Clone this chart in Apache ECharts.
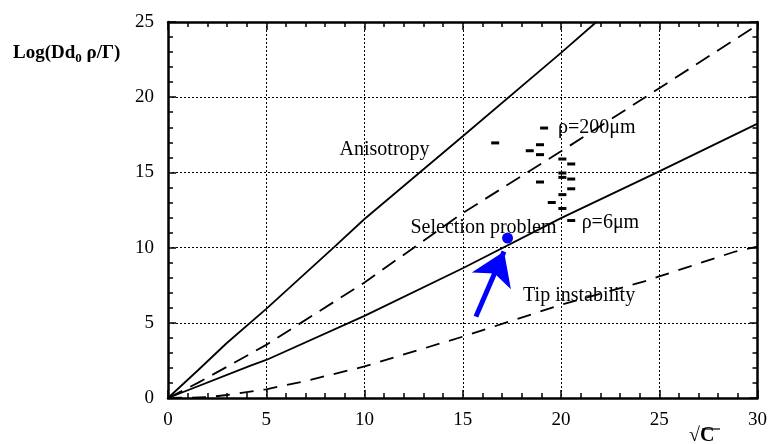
<!DOCTYPE html>
<html>
<head>
<meta charset="utf-8">
<script src="https://cdn.jsdelivr.net/npm/echarts@6/dist/echarts.min.js"></script>
<style>
  html, body { margin: 0; padding: 0; background: #fff; }
  #chart { width: 770px; height: 444px; }
</style>
</head>
<body>
<div id="chart"></div>
<script>
// Stability boundaries in the (√C, log) plane
const anisotropyUpper = [[0, 0], [1.54, 1.86], [2.98, 3.64], [5, 5.93], [8.48, 10.07], [10, 11.9], [15, 17.4], [20, 22.95], [21.8, 25]];
const anisotropyLower = [[0, 0], [1.54, 1.02], [5, 3.53], [10, 7.68], [15, 12.3], [20, 16.4], [25, 20.6], [30, 24.8]];
const selectionLine = [[0, 0], [4.2, 2.15], [5, 2.53], [10, 5.46], [15, 8.63], [20, 11.96], [25, 15.07], [30, 18.24]];
const tipInstability = [[0, 0], [2, 0.05], [3, 0.2], [5, 0.58], [7, 1.13], [10, 2.1], [15, 4.08], [20, 6.2], [24.2, 7.74], [25, 8.08], [28.87, 9.74], [30, 10.07]];

// Experimental points (ρ between 6 µm and 200 µm)
const measured = [
  [19.14, 17.95], [16.65, 16.96], [18.41, 16.44], [18.93, 16.84], [18.93, 16.18],
  [20.07, 15.89], [20.52, 15.56], [20.07, 14.96], [20.07, 14.67], [20.52, 14.56],
  [18.93, 14.36], [20.52, 13.91], [20.07, 13.52], [19.53, 13.0], [20.07, 12.6], [20.52, 11.8]
];

// Highlighted operating point and the arrow pointing at it
const operatingPoint = [[17.28, 10.63]];
const arrowFrom = [15.67, 5.41];
const arrowTo = [17.1, 9.74];

// Region annotations, anchored at their left edge
const annotations = [
  [8.73, 16.51, 'Anisotropy'],
  [12.34, 11.32, 'Selection problem'],
  [18.07, 6.79, 'Tip instability'],
  [19.85, 17.96, 'ρ=200μm'],
  [21.05, 11.67, 'ρ=6μm']
];

const xTicks = { min: 0, max: 30, interval: 5 };
const yTicks = { min: 0, max: 25, interval: 5 };

const serif = '"Liberation Serif", "DejaVu Serif", serif';
const chart = echarts.init(document.getElementById('chart'));

function frameAxis(base, opts) {
  return Object.assign({
    type: 'value',
    min: base.min, max: base.max, interval: base.interval,
    axisLine: { show: true, onZero: false, lineStyle: { color: '#000', width: 2.5 } },
    axisTick: { show: true, inside: true, length: 8, lineStyle: { color: '#000', width: 1.5 } },
    minorTick: { show: true, splitNumber: 5, length: 5, lineStyle: { color: '#000', width: 1.5 } },
    splitLine: { show: false },
    axisLabel: { show: false }
  }, opts);
}

const curveStyle = (type, width) => ({ color: '#000', width: width, type: type });

chart.setOption({
  animation: false,
  backgroundColor: '#fff',
  grid: { left: 168, right: 11, top: 22, bottom: 46 },
  xAxis: [
    frameAxis(xTicks, {
      position: 'bottom',
      splitLine: { show: true, lineStyle: { color: '#000', width: 1, type: [2, 2] } },
      axisLabel: { show: true, color: '#000', fontFamily: serif, fontSize: 19, margin: 13 }
    }),
    frameAxis(xTicks, { position: 'top' })
  ],
  yAxis: [
    frameAxis(yTicks, {
      position: 'left',
      splitLine: { show: true, lineStyle: { color: '#000', width: 1, type: [2, 2] } },
      axisLabel: { show: true, color: '#000', fontFamily: serif, fontSize: 19, margin: 14 }
    }),
    frameAxis(yTicks, { position: 'right' })
  ],
  series: [
    { type: 'line', data: anisotropyUpper, symbol: 'none', lineStyle: curveStyle('solid', 1.8), z: 3 },
    { type: 'line', data: anisotropyLower, symbol: 'none', lineStyle: curveStyle([16, 9], 1.8), z: 3 },
    { type: 'line', data: selectionLine, symbol: 'none', lineStyle: curveStyle('solid', 1.8), z: 3 },
    { type: 'line', data: tipInstability, symbol: 'none', lineStyle: curveStyle([14, 10], 1.8), z: 3 },
    {
      type: 'scatter', data: measured, symbol: 'rect', symbolSize: [8, 3],
      itemStyle: { color: '#000', opacity: 1 }, z: 4
    },
    {
      type: 'scatter', data: operatingPoint, symbol: 'circle', symbolSize: 11,
      itemStyle: { color: '#0000ff', opacity: 1 }, z: 5
    },
    {
      type: 'lines', coordinateSystem: 'cartesian2d', z: 5,
      symbol: ['none', 'arrow'], symbolSize: 32,
      lineStyle: { color: '#0000ff', width: 5, opacity: 1 },
      data: [{ coords: [arrowFrom, arrowTo] }]
    },
    {
      type: 'scatter', symbolSize: 0, z: 6,
      itemStyle: { opacity: 1 },
      data: annotations.map(a => ({ value: [a[0], a[1]], name: a[2] })),
      label: {
        show: true, position: 'right', distance: 0, opacity: 1,
        formatter: p => p.name,
        color: '#000', fontFamily: serif, fontSize: 20
      }
    }
  ],
  graphic: [
    {
      type: 'text', left: 13, top: 44,
      style: {
        text: '{a|Log(Dd}{s|0}{a| ρ/Γ)}',
        rich: {
          a: { fontFamily: serif, fontSize: 19, fontWeight: 'bold', fill: '#000' },
          s: { fontFamily: serif, fontSize: 13, fontWeight: 'bold', fill: '#000', padding: [10, 0, 0, 0] }
        }
      }
    },
    {
      type: 'text', left: 689, top: 426,
      style: { text: '√C', fontFamily: serif, fontSize: 20, fontWeight: 'bold', fill: '#000' }
    },
    {
      type: 'line', shape: { x1: 702, y1: 429, x2: 720, y2: 429 },
      style: { stroke: '#000', lineWidth: 1.2 }
    }
  ]
});
</script>
</body>
</html>
